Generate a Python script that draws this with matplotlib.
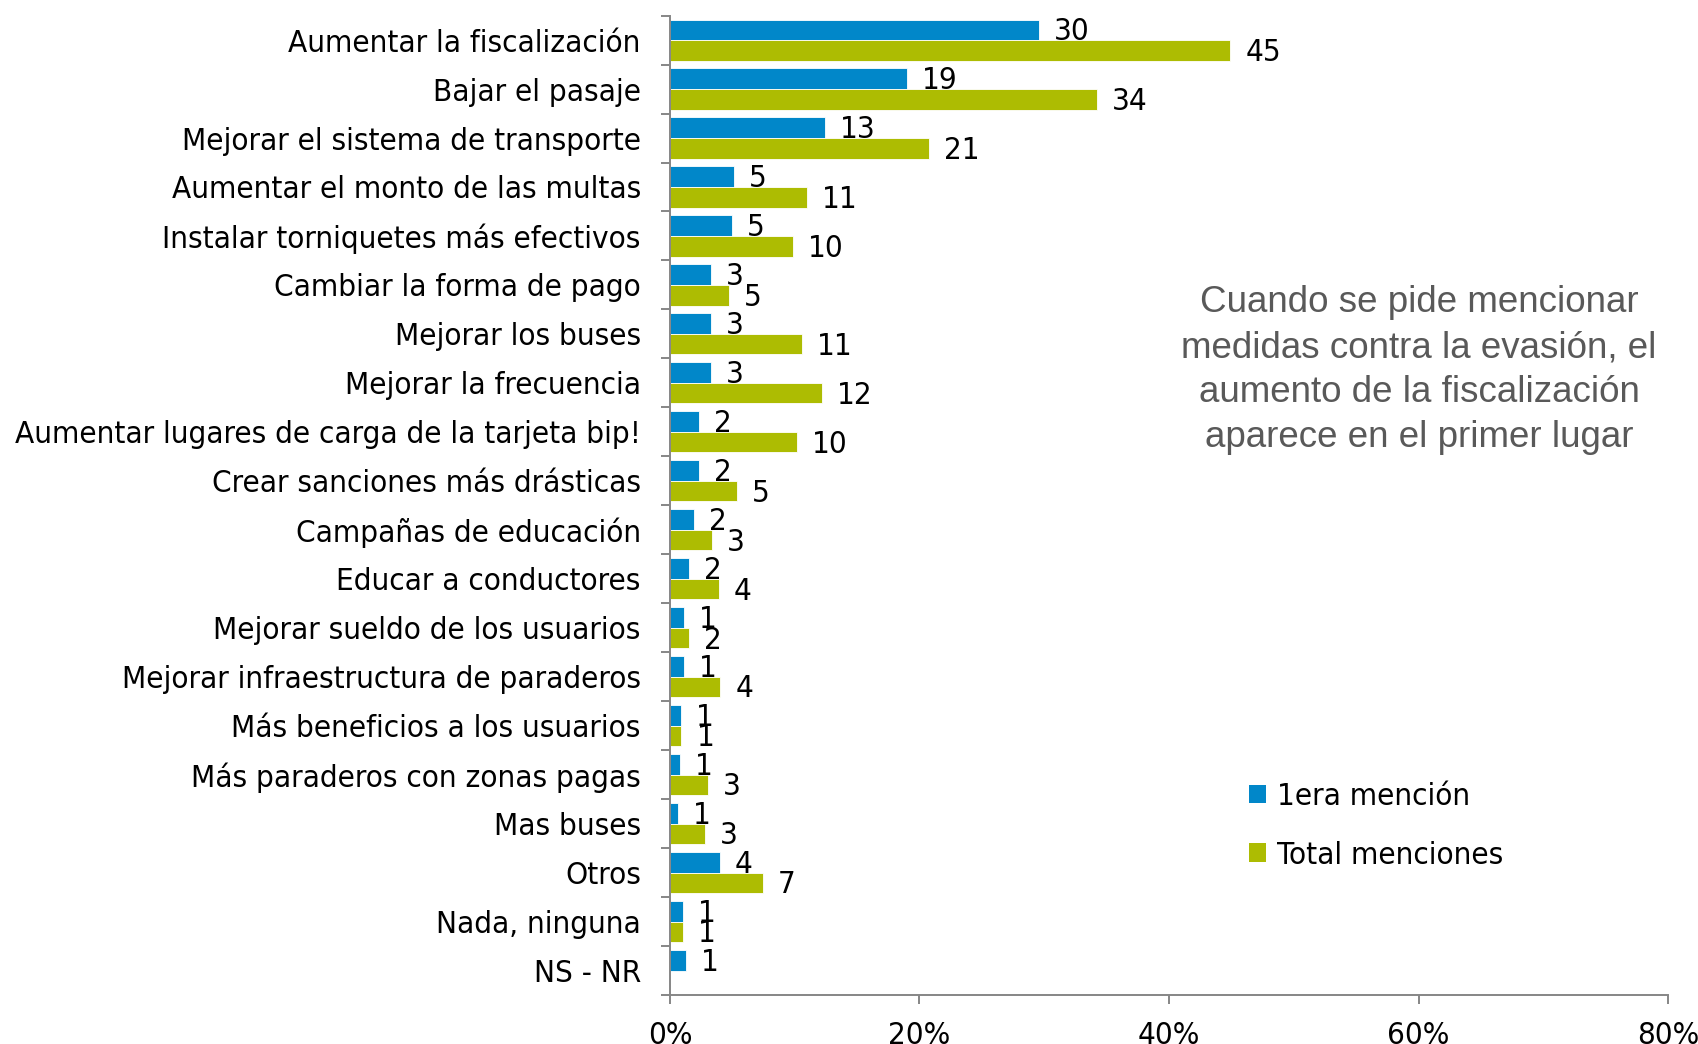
import matplotlib
matplotlib.use('Agg')
import matplotlib.pyplot as plt
import numpy as np
from matplotlib.patches import Patch

categories = [
    "Aumentar la fiscalización",
    "Bajar el pasaje",
    "Mejorar el sistema de transporte",
    "Aumentar el monto de las multas",
    "Instalar torniquetes más efectivos",
    "Cambiar la forma de pago",
    "Mejorar los buses",
    "Mejorar la frecuencia",
    "Aumentar lugares de carga de la tarjeta bip!",
    "Crear sanciones más drásticas",
    "Campañas de educación",
    "Educar a conductores",
    "Mejorar sueldo de los usuarios",
    "Mejorar infraestructura de paraderos",
    "Más beneficios a los usuarios",
    "Más paraderos con zonas pagas",
    "Mas buses",
    "Otros",
    "Nada, ninguna",
    "NS - NR",
]
primera = [29.6, 19.0, 12.4, 5.1, 5.0, 3.3, 3.25, 3.3, 2.3, 2.3, 1.9, 1.55,
           1.15, 1.15, 0.88, 0.77, 0.65, 4.0, 1.02, 1.28]
total = [44.9, 34.2, 20.8, 11.0, 9.85, 4.7, 10.6, 12.2, 10.15, 5.4, 3.37, 3.9,
         1.55, 4.04, 0.92, 3.07, 2.8, 7.46, 1.02, 0.0]
primera_labels = ["30", "19", "13", "5", "5", "3", "3", "3", "2", "2", "2", "2",
                  "1", "1", "1", "1", "1", "4", "1", "1"]
total_labels = ["45", "34", "21", "11", "10", "5", "11", "12", "10", "5", "3", "4",
                "2", "4", "1", "3", "3", "7", "1", ""]
xticks = [0, 20, 40, 60, 80]
xtick_labels = ["0%", "20%", "40%", "60%", "80%"]
series_names = ["1era mención", "Total menciones"]
note = ("Cuando se pide mencionar\nmedidas contra la evasión, el\n"
        "aumento de la fiscalización\naparece en el primer lugar")

BLUE = "#0187C9"
GREEN = "#ADBC02"
GRAY = "#868686"

plt.rcParams['font.family'] = ['DejaVu Sans']
plt.rcParams['font.stretch'] = 'condensed'
FS = 22.5

W, H = 1699, 1044
fig = plt.figure(figsize=(W / 100, H / 100), dpi=100)
top_px, bot_px, left_px, right_px = 15.6, 995, 670, 1668
ax = fig.add_axes([left_px / W, 1 - bot_px / H, (right_px - left_px) / W, (bot_px - top_px) / H])

n = len(categories)
y = np.arange(n)
h = 0.42
ax.barh(y - h / 2, primera, height=h, color=BLUE, edgecolor='white', linewidth=0.6)
ax.barh(y + h / 2, total, height=h, color=GREEN, edgecolor='white', linewidth=0.6)

for i in range(n):
    if primera_labels[i]:
        ax.annotate(primera_labels[i], xy=(primera[i], y[i] - h / 2), xytext=(15, -2),
                    textcoords='offset pixels', ha='left', va='center', fontsize=FS)
    if total_labels[i]:
        ax.annotate(total_labels[i], xy=(total[i], y[i] + h / 2), xytext=(15, -2),
                    textcoords='offset pixels', ha='left', va='center', fontsize=FS)

ax.set_xlim(0, 80)
ax.set_ylim(n - 0.5, -0.5)
ax.set_xticks(xticks)
ax.set_xticklabels(xtick_labels, fontsize=FS)
ax.set_yticks(y)
ax.set_yticklabels(categories, fontsize=FS)
ax.set_yticks(np.arange(n + 1) - 0.5, minor=True)
ax.tick_params(axis='y', which='major', length=0, pad=21)
ax.tick_params(axis='y', which='minor', length=6.5, width=1.4, color=GRAY, direction='out')
ax.tick_params(axis='x', which='major', length=6.5, width=1.4, color=GRAY, direction='out', pad=12)
for s in ['top', 'right']:
    ax.spines[s].set_visible(False)
for s in ['left', 'bottom']:
    ax.spines[s].set_color(GRAY)
    ax.spines[s].set_linewidth(1.4)

handles = [Patch(facecolor=BLUE, edgecolor='none'), Patch(facecolor=GREEN, edgecolor='none')]
fig.legend(handles, series_names, loc='upper left', bbox_to_anchor=(1249 / W, 1 - 782 / H),
           frameon=False, fontsize=FS, handlelength=0.55, handleheight=0.55,
           handletextpad=0.35, labelspacing=0.95, borderpad=0, borderaxespad=0)

fig.text(1419 / W, 1 - 370 / H, note, ha='center', va='center', multialignment='center',
         family='Liberation Sans', fontstretch='normal', fontsize=26.5, color='#595959',
         linespacing=1.36)

fig.savefig('out.png', dpi=100)
